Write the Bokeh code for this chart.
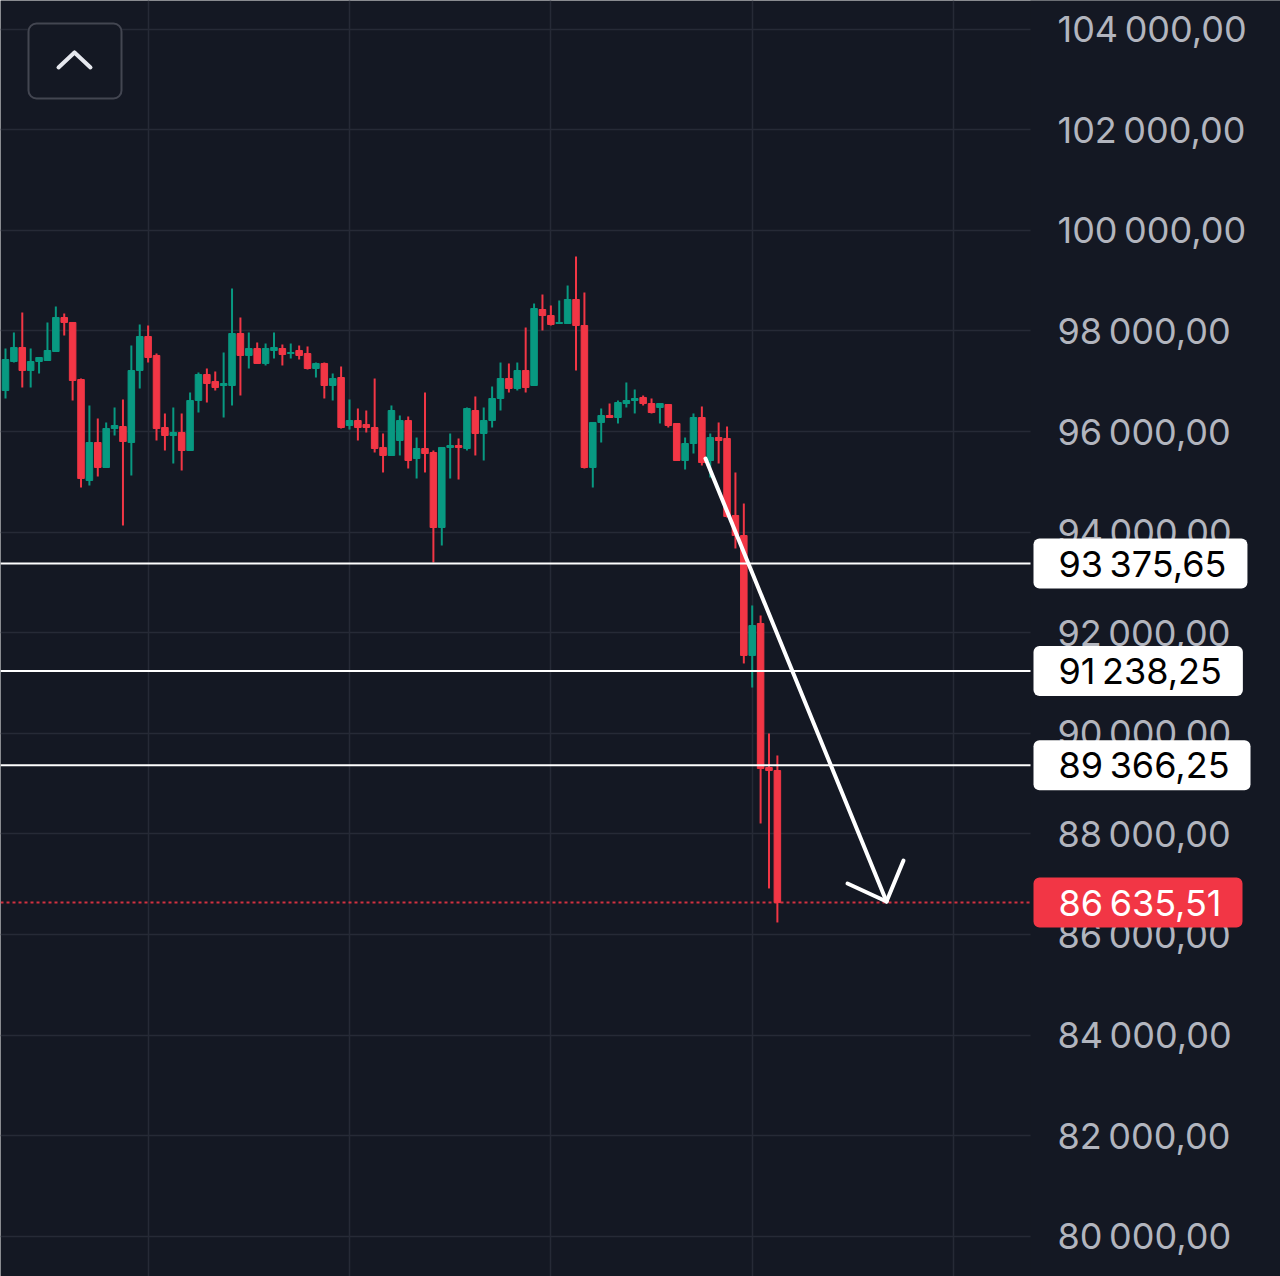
import numpy as np
from bokeh.plotting import figure
from bokeh.models import (Range1d, FixedTicker, Label, Arrow, BoxAnnotation,
                          ColumnDataSource)
from bokeh.embed import file_html
from bokeh.resources import INLINE

# ---------------- data (hourly candles) ----------------
opens = [96816, 97392, 97671, 97213, 97392, 97412, 97591, 98267, 98168, 97034,
         95027, 95782, 95285, 96060, 96100, 95782, 97213, 97889, 97512, 96080,
         95921, 95981, 95623, 96617, 97134, 96995, 96915, 96915, 97949, 97512,
         97651, 97353, 97611, 97651, 97551, 97611, 97551, 97253, 97353, 96915,
         97074, 96120, 96219, 96140, 96080, 95683, 95524, 95822, 96219, 95464,
         95663, 95583, 94092, 95683, 95722, 95663, 96418, 95961, 96219, 96657,
         97054, 96856, 97213, 96915, 98426, 98307, 98148, 98148, 98625, 98108,
         95285, 96180, 96319, 96279, 96557, 96617, 96677, 96557, 96478, 96537,
         96160, 95424, 95762, 96279, 95424, 95881, 95862, 94331, 93933, 91548,
         92184, 89321, 89261]
highs = [97651, 97969, 98366, 97651, 97472, 98168, 98486, 98347, 98168, 97054,
         96518, 96259, 96180, 96478, 96637, 97710, 98128, 98108, 97551, 96359,
         96478, 96359, 96776, 97174, 97253, 97194, 97571, 98844, 98267, 97969,
         97770, 97750, 97969, 97730, 97750, 97710, 97691, 97372, 97372, 97154,
         97293, 96637, 96458, 96418, 97054, 95961, 96518, 96319, 96299, 95881,
         96776, 95623, 95683, 95961, 95862, 96478, 96697, 96478, 96895, 97372,
         97353, 97372, 98068, 98545, 98724, 98506, 98605, 98903, 99480, 98764,
         96180, 96458, 96557, 96617, 96975, 96836, 96716, 96657, 96557, 96537,
         96160, 95881, 96359, 96498, 95961, 96180, 96100, 95186, 94569, 92542,
         92343, 89997, 89560]
lows = [96657, 97372, 96875, 96875, 97154, 97412, 97591, 97909, 96617, 94887,
        94927, 95106, 95285, 95921, 94132, 95126, 96856, 97372, 95822, 95623,
        95365, 95225, 95623, 96378, 96577, 96816, 96279, 96518, 96716, 97253,
        97353, 97313, 97452, 97313, 97452, 97432, 97233, 97074, 96657, 96617,
        96060, 96040, 95822, 95981, 95583, 95186, 95524, 95524, 95265, 95066,
        95186, 93396, 93734, 95066, 95046, 95623, 95524, 95424, 96080, 96418,
        96776, 96816, 96776, 96915, 98009, 98108, 98148, 98148, 97213, 95265,
        94887, 95782, 96279, 96160, 96478, 96359, 96518, 96359, 96160, 96080,
        95424, 95245, 95563, 95325, 95086, 95365, 94291, 93675, 91389, 90911,
        88208, 86916, 86240]
closes = [97432, 97671, 97213, 97392, 97472, 97611, 98267, 98168, 97015, 95066,
          95782, 95285, 96060, 96120, 95802, 97213, 97889, 97472, 96060, 95921,
          95981, 95623, 96617, 97134, 96955, 96875, 96955, 97949, 97512, 97651,
          97353, 97651, 97671, 97531, 97571, 97512, 97253, 97353, 96915, 97054,
          96080, 96219, 96080, 96080, 95663, 95524, 96418, 96219, 95424, 95663,
          95563, 94092, 95683, 95722, 95683, 96458, 95961, 96219, 96657, 97054,
          96856, 97213, 96875, 98446, 98307, 98128, 98168, 98625, 98108, 95285,
          96180, 96319, 96279, 96577, 96617, 96657, 96557, 96378, 96557, 96120,
          95424, 95762, 96279, 95384, 95881, 95822, 94311, 93933, 91548, 92144,
          89301, 89261, 86635.51]

y_ticks = [80000, 82000, 84000, 86000, 88000, 90000, 92000, 94000, 96000,
           98000, 100000, 102000, 104000]
y_tick_labels = ["80\u2009000,00", "82\u2009000,00", "84\u2009000,00", "86\u2009000,00",
                 "88\u2009000,00", "90\u2009000,00", "92\u2009000,00", "94\u2009000,00",
                 "96\u2009000,00", "98\u2009000,00", "100\u2009000,00", "102\u2009000,00",
                 "104\u2009000,00"]
day_ticks = [17, 41, 65, 89, 113]

level_prices = [93375.65, 91238.25, 89366.25]
level_labels = ["93\u2009375,65", "91\u2009238,25", "89\u2009366,25"]
last_price = 86635.51
last_label = "86\u2009635,51"

# ---------------- style / geometry ----------------
BG = "#141823"
GRID = "#262a36"
UP = "#089981"
DOWN = "#f23645"
AXIS_TXT = "#b2b5be"
FONT = "Inter"

W, H = 1280, 1276
PX_PER_BAR = 8.39
X0 = -0.596
X1 = X0 + W / PX_PER_BAR
Y_TOP, Y_BOT = 104569, 79202


def px_x(px):
    return X0 + px / PX_PER_BAR


def px_y(py):
    return Y_TOP - py * (Y_TOP - Y_BOT) / H


X_AXIS = px_x(1030)   # where the price scale begins

p = figure(width=W, height=H, x_range=Range1d(X0, X1), y_range=Range1d(Y_BOT, Y_TOP),
           output_backend="svg", toolbar_location=None,
           x_axis_location=None, y_axis_location="right",
           min_border_left=0, min_border_top=0, min_border_bottom=0, min_border_right=0,
           background_fill_color=BG, border_fill_color=BG, outline_line_color=None)

ax = p.yaxis[0]
ax.fixed_location = X_AXIS
ax.ticker = FixedTicker(ticks=y_ticks)
ax.major_label_overrides = dict(zip(y_ticks, y_tick_labels))
ax.axis_line_color = None
ax.major_tick_line_color = None
ax.minor_tick_line_color = None
ax.major_tick_out = 0
ax.major_tick_in = 0
ax.major_label_standoff = 27
ax.major_label_text_font = FONT
ax.major_label_text_font_size = "36px"
ax.major_label_text_color = AXIS_TXT

p.ygrid.ticker = FixedTicker(ticks=y_ticks)
p.ygrid.grid_line_color = GRID
p.ygrid.grid_line_width = 1.5
p.xgrid.ticker = FixedTicker(ticks=day_ticks)
p.xgrid.grid_line_color = GRID
p.xgrid.grid_line_width = 1.5

# price-scale area has no grid
p.add_layout(BoxAnnotation(left=X_AXIS, fill_color=BG, fill_alpha=1, line_color=None,
                           level="underlay"))

o = np.array(opens, dtype=float)
c = np.array(closes, dtype=float)
hi = np.array(highs, dtype=float)
lo = np.array(lows, dtype=float)
idx = np.arange(len(o))
inc = c >= o

for mask, col in ((inc, UP), (~inc, DOWN)):
    src = ColumnDataSource(dict(x=idx[mask], high=hi[mask], low=lo[mask],
                                top=np.maximum(o, c)[mask], bottom=np.minimum(o, c)[mask]))
    p.segment(x0="x", y0="high", x1="x", y1="low", source=src, line_color=col, line_width=2)
    p.vbar(x="x", width=0.78, top="top", bottom="bottom", source=src,
           fill_color=col, line_color=col, line_width=1)

# horizontal levels (end at the price scale)
lvl = ColumnDataSource(dict(y=level_prices))
p.segment(x0=X0, x1=X_AXIS, y0="y", y1="y", source=lvl, line_color="white", line_width=2)
p.segment(x0=[X0], x1=[X_AXIS], y0=[last_price], y1=[last_price], line_color=DOWN,
          line_alpha=0.85, line_width=2, line_dash="3 3")

# price tags on the scale (box starts 3px right of the scale edge)
TAG_PAD = dict(left=25, right=21, top=3, bottom=3)
for lp, lt in zip(level_prices, level_labels):
    p.add_layout(Label(x=X_AXIS, y=lp, x_offset=3, text=lt, text_font=FONT, text_font_size="36px",
                       text_color="black", text_baseline="middle", text_align="left",
                       background_fill_color="white", border_radius=6,
                       padding=TAG_PAD, level="overlay"))
p.add_layout(Label(x=X_AXIS, y=last_price, x_offset=3, text=last_label, text_font=FONT,
                   text_font_size="36px", text_color="white", text_baseline="middle",
                   text_align="left", background_fill_color=DOWN, border_radius=6,
                   padding=TAG_PAD, level="overlay"))

# hand-drawn arrow
tip = (px_x(886), px_y(901))
p.add_layout(Arrow(x_start=px_x(705), y_start=px_y(458), x_end=tip[0], y_end=tip[1], end=None,
                   line_color="white", line_width=4, line_cap="round"))
for lx, ly in ((847, 883), (903, 860)):
    p.add_layout(Arrow(x_start=tip[0], y_start=tip[1], x_end=px_x(lx), y_end=px_y(ly), end=None,
                       line_color="white", line_width=4, line_cap="round"))

# collapse button
p.add_layout(BoxAnnotation(left=px_x(28), right=px_x(121), top=px_y(23), bottom=px_y(98),
                           fill_color=BG, fill_alpha=1, line_color="#434651", line_alpha=1,
                           line_width=2, border_radius=8))
for (sx, sy), (ex, ey) in (((58, 67), (74, 52)), ((74, 52), (90, 67))):
    p.add_layout(Arrow(x_start=px_x(sx), y_start=px_y(sy), x_end=px_x(ex), y_end=px_y(ey), end=None,
                       line_color="#e6e8ee", line_width=4, line_cap="round"))

open("out.html", "w").write(file_html(p, INLINE))
